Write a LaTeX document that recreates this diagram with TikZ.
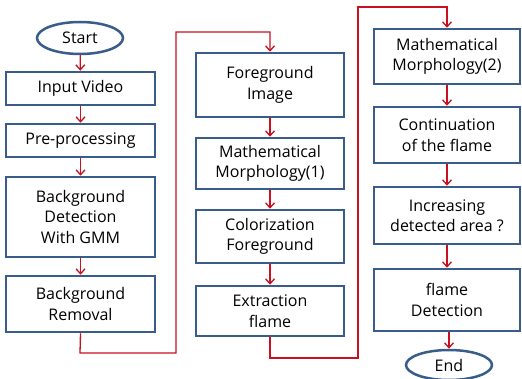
\documentclass[tikz,border=0pt]{standalone}
\usepackage{fontspec}
\setmainfont{Open Sans}
\usetikzlibrary{arrows.meta,shapes.geometric}
\definecolor{boxc}{RGB}{56,93,138}
\definecolor{arrc}{RGB}{200,16,30}
\begin{document}
\begin{tikzpicture}[x=1pt,y=-1pt,
  box/.style={draw=boxc,line width=2.5pt,fill=white,align=center,font=\fontsize{16}{20.5}\selectfont,inner sep=0pt},
  oval/.style={ellipse,draw=boxc,line width=2.5pt,fill=white,inner sep=0pt,font=\fontsize{16}{20.5}\selectfont},
  arr/.style={draw=arrc,line width=1.3pt,-{Straight Barb[length=5pt,width=9pt]}},
  lin/.style={draw=arrc,line width=1.3pt}]
\useasboundingbox (0,0) rectangle (522,379);
% column 1
\node[oval,minimum width=86pt,minimum height=32pt] (start) at (80,38) {Start};
\node[box,minimum width=149pt,minimum height=33pt] (in) at (80.5,88.5) {Input Video};
\node[box,minimum width=149pt,minimum height=33pt] (pre) at (80.5,140.5) {Pre-processing};
\node[box,minimum width=149pt,minimum height=80pt] (bgd) at (80.5,217) {Background\\Detection\\With GMM};
\node[box,minimum width=149pt,minimum height=56pt] (bgr) at (80.5,304) {Background\\Removal};
% column 2
\node[box,minimum width=148pt,minimum height=64pt] (fg) at (270,85) {Foreground\\Image};
\node[box,minimum width=148pt,minimum height=51pt] (mm1) at (270,163.5) {Mathematical\\Morphology(1)};
\node[box,minimum width=148pt,minimum height=53pt] (col) at (270,236.5) {Colorization\\Foreground};
\node[box,minimum width=148pt,minimum height=50pt] (ext) at (270,311) {Extraction\\flame};
% column 3
\node[box,minimum width=146pt,minimum height=55pt] (mm2) at (447,56.5) {Mathematical\\Morphology(2)};
\node[box,minimum width=146pt,minimum height=56pt] (cont) at (447,135) {Continuation\\of the flame};
\node[box,minimum width=146pt,minimum height=57pt] (inc) at (447,215.5) {Increasing\\detected area ?};
\node[box,minimum width=146pt,minimum height=62pt] (fd) at (447,300) {flame\\Detection};
\node[oval,minimum width=86pt,minimum height=30pt] (end) at (449,365) {End};
% arrows
\draw[arr] (start) -- (in);
\draw[arr] (in) -- (pre);
\draw[arr] (pre) -- (bgd);
\draw[arr] (bgd) -- (bgr);
\coordinate (c1) at (80,353);
\coordinate (c2) at (176,353);
\coordinate (c3) at (176,32);
\coordinate (c4) at (270,32);
\draw[arr] (bgr.south) -- (c1) -- (c2) -- (c3) -- (c4) -- (fg.north);
\draw[arr] (fg) -- (mm1);
\draw[arr] (mm1) -- (col);
\draw[arr] (col) -- (ext);
\coordinate (d1) at (270,358);
\coordinate (d2) at (358,358);
\coordinate (d3) at (358,7);
\coordinate (d4) at (447,7);
\draw[arr] (ext.south) -- (d1) -- (d2) -- (d3) -- (d4) -- (mm2.north);
\draw[arr] (mm2) -- (cont);
\draw[arr] (cont) -- (inc);
\draw[arr] (inc) -- (fd);
\draw[arr] (fd.south -| end.north) -- (end.north);
\end{tikzpicture}
\end{document}
